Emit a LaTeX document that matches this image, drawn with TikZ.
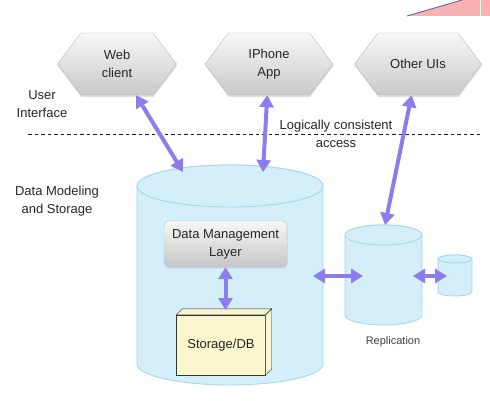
\documentclass[tikz,border=0pt]{standalone}
\usepackage{fontspec}
\setmainfont{Liberation Sans}
\usetikzlibrary{arrows.meta, shapes.symbols, shadows, calc, positioning}

\definecolor{tankfill}{RGB}{212,238,250}
\definecolor{tankline}{RGB}{160,214,240}
\definecolor{arrowpurple}{RGB}{140,124,238}
\definecolor{dbyellow}{RGB}{250,246,206}
\definecolor{cornerpink}{RGB}{249,178,178}

\tikzset{
  label text/.style={font=\fontsize{13}{18}\selectfont, text=black!85, align=center},
  uinode/.style={signal, signal to=east and west, signal pointer angle=106,
    minimum width=119pt, minimum height=62pt, inner sep=0pt,
    top color=gray!6, bottom color=gray!42, draw=gray!55,
    drop shadow={opacity=0.25, shadow xshift=0.5pt, shadow yshift=-2pt},
    label text},
  tank/.style={fill=tankfill, draw=tankline, line width=0.8pt},
  dbl/.style={draw=arrowpurple, line width=4pt,
    {Triangle[length=12pt,width=14pt]}-{Triangle[length=12pt,width=14pt]}},
}

\begin{document}
\begin{tikzpicture}[x=1pt, y=1pt]
\useasboundingbox (0,0) rectangle (490,400);

% corner of the next slide
\fill[cornerpink] (407,384) -- (462,400) -- (490,400) -- (490,384) -- cycle;
\draw[gray!70!blue, line width=0.8pt] (407,384) -- (462,400);
\draw[white, line width=1pt] (480,384) -- (480,400);

% user interface layer
\node[uinode] (web) at (117,336) {Web\\client};
\node[uinode, minimum width=128pt] (iphone) at (269,336) {IPhone\\App};
\node[uinode, minimum width=127pt] (other) at (418,336) {Other UIs};

\node[label text] (uilabel) at (42,296) {User\\Interface};
\draw[dashed, gray!20!black, thick, dash pattern=on 3.5pt off 3pt] (28,266) -- (480,266);
\node[label text] (access) at (336,266) {Logically consistent\\access};
\node[label text] (dmlabel) at (57,199) {Data Modeling\\and Storage};

% main store
\draw[tank] (137,214) -- (137,36) arc[start angle=180, end angle=360, x radius=93, y radius=21]
  -- (323,214) arc[start angle=0, end angle=180, x radius=93, y radius=21] -- cycle;
\draw[tank] (230,214) ellipse[x radius=93, y radius=21];

% replicas
\draw[tank] (345,165) -- (345,85) arc[start angle=180, end angle=360, x radius=38.5, y radius=10]
  -- (422,165) arc[start angle=0, end angle=180, x radius=38.5, y radius=10] -- cycle;
\draw[tank] (383.5,165) ellipse[x radius=38.5, y radius=10];
\draw[tank] (438,141) -- (438,108) arc[start angle=180, end angle=360, x radius=17, y radius=4]
  -- (472,141) arc[start angle=0, end angle=180, x radius=17, y radius=4] -- cycle;
\draw[tank] (455,141) ellipse[x radius=17, y radius=4];
\node[label text, font=\fontsize{11}{14}\selectfont, text=black!75] (replab) at (393,58) {Replication};

% inside the store
\node[label text, rounded corners=5pt, minimum width=123pt, minimum height=46pt, inner sep=0pt,
  top color=gray!6, bottom color=gray!45, draw=gray!50,
  drop shadow={opacity=0.2, shadow xshift=0.5pt, shadow yshift=-1.5pt}] (dml) at (225.5,156) {Data Management\\Layer};

\node[label text, fill=dbyellow, draw=black!80, minimum width=89pt, minimum height=60pt, inner sep=0pt] (db) at (221,55) {Storage/DB};
\draw[fill=dbyellow, draw=black!80] (db.north west) -- ++(6,6) -- ($(db.north east)+(6,6)$) -- (db.north east) -- cycle;
\draw[fill=dbyellow, draw=black!80] (db.north east) -- ++(6,6) -- ++(0,-60) -- (db.south east) -- cycle;

% arrow ends
\coordinate (webin) at (183,228);
\coordinate (iphonein) at (263,228);
\coordinate (repin) at (385,175);
\coordinate (dbtop) at (225.5,90);
\coordinate (mainout) at (313,124);
\coordinate (repleft) at (363,124);
\coordinate (repright) at (413,124);
\coordinate (smallin) at (447,124);

\draw[dbl] (web) -- (webin);
\draw[dbl] (iphone) -- (iphonein);
\draw[dbl] (other) -- (repin);
\draw[dbl] (dml.south) -- (dbtop);
\draw[dbl] (mainout) -- (repleft);
\draw[dbl] (repright) -- (smallin);
\end{tikzpicture}
\end{document}
